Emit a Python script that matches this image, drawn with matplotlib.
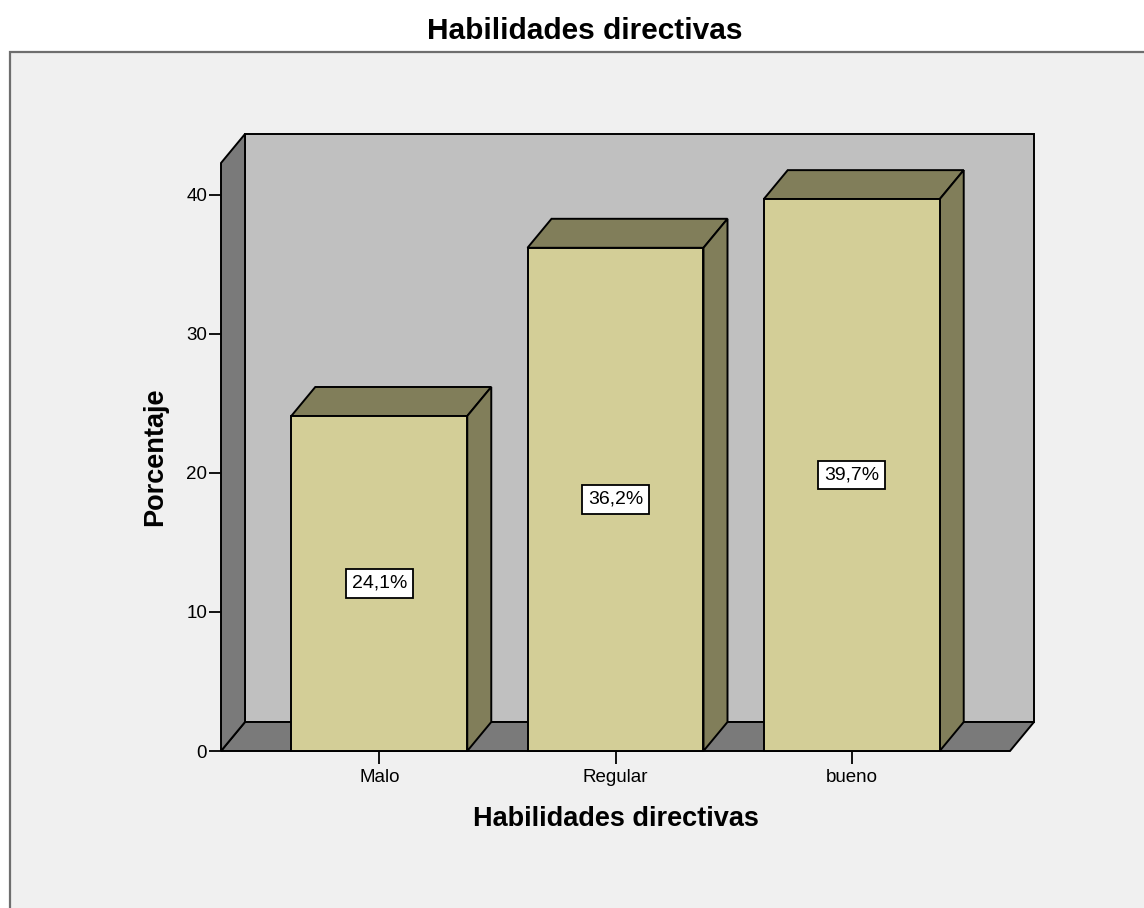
import matplotlib
matplotlib.use("Agg")
import matplotlib.pyplot as plt
from matplotlib.patches import Polygon, Rectangle

# datos del gráfico
categorias = ["Malo", "Regular", "bueno"]
porcentajes = [24.1, 36.2, 39.7]
etiquetas = ["24,1%", "36,2%", "39,7%"]
yticks = [0, 10, 20, 30, 40]

titulo = "Habilidades directivas"
xlabel = "Habilidades directivas"
ylabel = "Porcentaje"

# colores estilo SPSS
c_panel = "#f0f0f0"
c_fondo = "#c0c0c0"
c_pared = "#7a7a7a"
c_barra = "#d3ce97"
c_barra_osc = "#817e5a"

plt.rcParams["font.family"] = ["Liberation Sans", "DejaVu Sans"]

W, H, DPI = 1144, 908, 100
fig = plt.figure(figsize=(W / DPI, H / DPI), dpi=DPI, facecolor="white")

# panel gris claro del área del gráfico (por debajo de los ejes)
fig.patches.append(Rectangle((10 / W, -0.1), 1.2, 1 - 52 / H + 0.1,
                             transform=fig.transFigure, fc=c_panel,
                             ec="#6e6e6e", lw=1.6, zorder=-10))

# ejes en el plano frontal
ax_l, ax_r, ax_b, ax_t = 221, 1010, 751, 163
ax = fig.add_axes([ax_l / W, 1 - ax_b / H, (ax_r - ax_l) / W, (ax_b - ax_t) / H])
ax.set_zorder(1)
xmin, xmax = -0.67, len(categorias) - 1 + 0.67
ymin, ymax = 0, 42.3
ax.set_xlim(xmin, xmax)
ax.set_ylim(ymin, ymax)
ax.patch.set_visible(False)
for s in ax.spines.values():
    s.set_visible(False)

# profundidad en pixeles -> unidades de datos
prof_x, prof_y = 24, 29
dx = prof_x * (xmax - xmin) / (ax_r - ax_l)
dy = prof_y * (ymax - ymin) / (ax_b - ax_t)

lw = 1.4


def poly(pts, color, z):
    ax.add_patch(Polygon(pts, closed=True, fc=color, ec="black", lw=lw,
                         joinstyle="miter", clip_on=False, zorder=z))


# pared del fondo, suelo y pared izquierda
poly([(xmin + dx, ymin + dy), (xmax + dx, ymin + dy),
      (xmax + dx, ymax + dy), (xmin + dx, ymax + dy)], c_fondo, 1)
poly([(xmin, ymin), (xmax, ymin), (xmax + dx, ymin + dy), (xmin + dx, ymin + dy)], c_pared, 2)
poly([(xmin, ymin), (xmin, ymax), (xmin + dx, ymax + dy), (xmin + dx, ymin + dy)], c_pared, 2)

# barras 3D
ancho = 0.745
for i, (v, txt) in enumerate(zip(porcentajes, etiquetas)):
    x0, x1 = i - ancho / 2, i + ancho / 2
    poly([(x0, v), (x1, v), (x1 + dx, v + dy), (x0 + dx, v + dy)], c_barra_osc, 3)
    poly([(x1, 0), (x1 + dx, dy), (x1 + dx, v + dy), (x1, v)], c_barra_osc, 3)
    poly([(x0, 0), (x1, 0), (x1, v), (x0, v)], c_barra, 4)
    ax.text(i, v / 2, txt, ha="center", va="center", fontsize=14, zorder=5,
            bbox=dict(boxstyle="square,pad=0.3", fc="white", ec="black", lw=1.3))

ax.set_yticks(yticks)
ax.set_yticklabels([str(t) for t in yticks])
ax.set_xticks(range(len(categorias)))
ax.set_xticklabels(categorias)
ax.tick_params(axis="y", direction="out", length=9, width=1.3, labelsize=13.5, pad=1)
ax.tick_params(axis="x", direction="out", length=9, width=1.3, labelsize=13.5, pad=4)

ax.set_xlabel(xlabel, fontsize=19.5, fontweight="bold", labelpad=14)
ax.set_ylabel(ylabel, fontsize=19.5, fontweight="bold", labelpad=13)

fig.text(585 / W, 1 - 31 / H, titulo, ha="center", va="center",
         fontsize=21.5, fontweight="bold")

fig.savefig("out.png", dpi=DPI, facecolor=fig.get_facecolor())
